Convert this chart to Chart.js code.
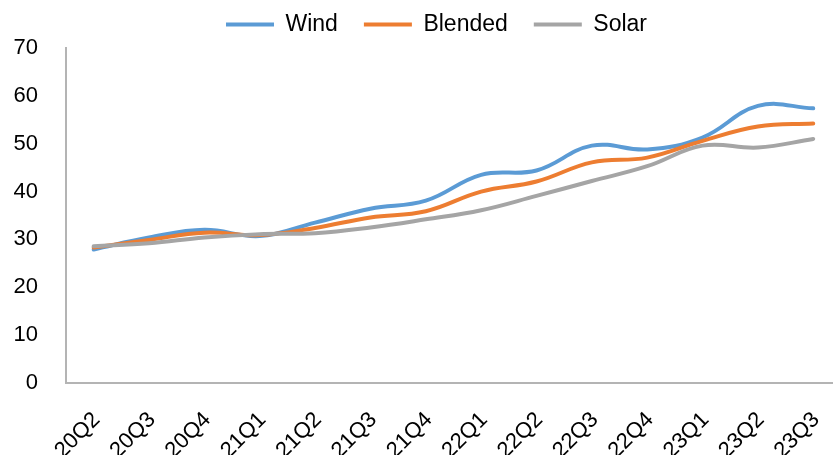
<!DOCTYPE html>
<html>
<head>
<meta charset="utf-8">
<script src="https://cdn.jsdelivr.net/npm/chart.js@4.4.1/dist/chart.umd.min.js"></script>
<style>
  html, body { margin: 0; padding: 0; background: #fff; overflow: hidden; }
  /* the source picture is cropped on the right: plot runs past the edge */
  #clip { position: relative; width: 833px; height: 455px; overflow: hidden; }
  canvas { display: block; position: absolute; left: 0; top: 0; }
</style>
</head>
<body>
<div id="clip"><canvas id="chart" width="856" height="455"></canvas></div>
<script>
// --- data ---
const quarters = ['20Q2', '20Q3', '20Q4', '21Q1', '21Q2', '21Q3', '21Q4',
                  '22Q1', '22Q2', '22Q3', '22Q4', '23Q1', '23Q2', '23Q3'];
const wind     = [27.9, 30.4, 32.0, 30.7, 33.5, 36.4, 38.1, 43.5, 44.4, 49.6, 48.8, 51.3, 57.9, 57.4];
const blended  = [28.3, 29.9, 31.4, 30.9, 32.4, 34.6, 35.9, 40.0, 42.1, 46.1, 47.1, 50.6, 53.6, 54.2];
const solar    = [28.6, 29.2, 30.4, 31.1, 31.3, 32.5, 34.2, 36.1, 39.1, 42.2, 45.3, 49.6, 49.2, 51.0];
const yTicks   = [0, 10, 20, 30, 40, 50, 60, 70];

const colors = { wind: '#5B9BD5', blended: '#ED7D31', solar: '#A5A5A5', axis: '#B4B4B4', text: '#000' };
const FONT = 'Arial, "Liberation Sans", sans-serif';

// legend: fixed height, and centred a bit right of the canvas middle (as in the source)
const legendTweak = {
  id: 'legendTweak',
  beforeInit(chart) {
    const fit = chart.legend.fit;
    chart.legend.fit = function () {
      fit.call(this);
      this.height = 61;
    };
  },
  afterLayout(chart) {
    chart.legend.left = 30;
    chart.legend.right = 843;
  }
};

function line(label, data, color, order) {
  return {
    label, data, order,
    borderColor: color, backgroundColor: color,
    borderWidth: 4, borderCapStyle: 'round',
    pointRadius: 0, tension: 0.4, fill: false
  };
}

new Chart(document.getElementById('chart'), {
  type: 'line',
  data: {
    labels: quarters,
    datasets: [
      line('Wind', wind, colors.wind, 3),
      line('Blended', blended, colors.blended, 2),
      line('Solar', solar, colors.solar, 1)
    ]
  },
  options: {
    responsive: false, animation: false,
    layout: { padding: { top: -13, left: 8, right: 3, bottom: 0 } },
    plugins: {
      legend: {
        position: 'top',
        labels: {
          color: colors.text, font: { family: FONT, size: 23 },
          boxWidth: 48, boxHeight: 4, padding: 26,
          sort: (a, b) => a.datasetIndex - b.datasetIndex,
          generateLabels: (chart) => Chart.defaults.plugins.legend.labels.generateLabels(chart)
            .map(l => Object.assign(l, { lineWidth: 0 }))
        }
      },
      tooltip: { enabled: false }
    },
    scales: {
      x: {
        offset: true,
        grid: { display: false, drawTicks: false },
        border: { color: colors.axis, width: 2 },
        ticks: { color: colors.text, font: { family: FONT, size: 22 }, minRotation: 45, maxRotation: 45, padding: 24, labelOffset: 3 },
        afterFit: (s) => { s.height = 72; }
      },
      y: {
        min: 0, max: 70,
        afterBuildTicks: (s) => { s.ticks = yTicks.map(v => ({ value: v })); },
        grid: { display: false, drawTicks: false },
        border: { color: colors.axis, width: 2 },
        ticks: { color: colors.text, font: { family: FONT, size: 22 }, padding: 28 },
        afterFit: (s) => { s.width = 58; }
      }
    }
  },
  plugins: [legendTweak]
});
</script>
</body>
</html>
